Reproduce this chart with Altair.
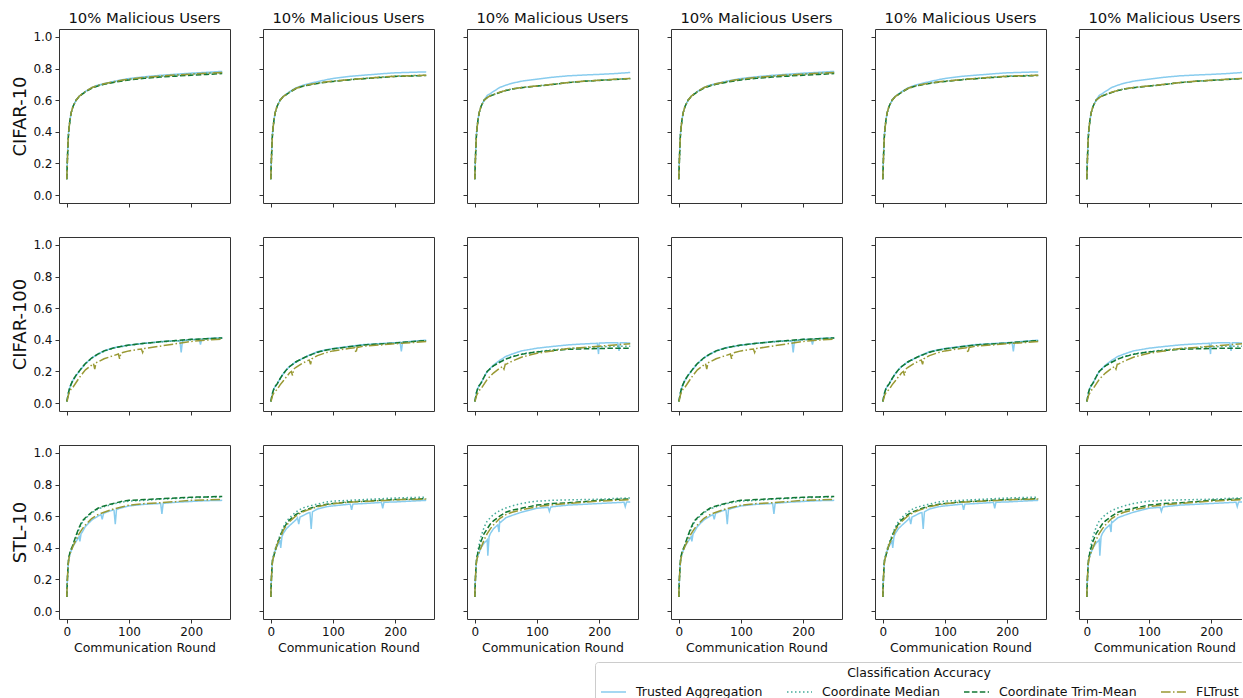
import altair as alt
import pandas as pd

# ---------------- data ----------------
ROUNDS = [0, 1, 2, 3, 5, 7, 10, 15, 20, 25, 30, 40, 50, 60, 75, 90, 100, 125, 150, 175, 200, 225, 250]
SERIES = ["Trusted Aggregation", "Coordinate Median", "Coordinate Trim-Mean", "FLTrust"]
COLORS = ["#88CCEE", "#44AA99", "#117733", "#999933"]
DASHES = [[1, 0], [1.5, 2.5], [5.5, 2.4], [9.6, 2.4, 1.5, 2.4]]
DATASETS = ["CIFAR-10", "CIFAR-100", "STL-10"]
COLUMN_TITLE = "10% Malicious Users"
COLUMN_SETTING = ["A", "B", "C", "A", "B", "C"]
Y_TICKS = [0.0, 0.2, 0.4, 0.6, 0.8, 1.0]
X_TICKS = [0, 100, 200]

# CIFAR-10
C10_A_TA = [.10, .22, .33, .40, .47, .52, .56, .60, .625, .64, .655, .68, .695, .705, .718, .73, .737, .748, .757, .764, .771, .776, .782]
C10_A_CM = [.10, .22, .33, .40, .47, .52, .56, .60, .625, .64, .655, .678, .692, .702, .715, .726, .732, .743, .752, .758, .765, .770, .775]
C10_A_TM = [.10, .22, .33, .40, .47, .52, .56, .60, .623, .638, .652, .675, .69, .70, .712, .722, .728, .738, .746, .752, .758, .763, .768]
C10_A_FL = [.10, .22, .33, .40, .47, .52, .56, .60, .625, .64, .655, .679, .694, .704, .716, .727, .733, .744, .752, .759, .765, .770, .775]

C10_B_TA = [.10, .22, .33, .40, .47, .52, .56, .60, .625, .638, .653, .677, .692, .703, .717, .73, .737, .75, .758, .766, .773, .776, .779]
C10_B_CM = [.10, .22, .33, .40, .47, .52, .56, .60, .623, .636, .65, .674, .688, .697, .708, .716, .72, .73, .738, .745, .752, .755, .758]
C10_B_TM = [.10, .22, .33, .40, .47, .52, .56, .60, .622, .635, .649, .672, .686, .695, .706, .714, .718, .728, .736, .743, .75, .753, .756]
C10_B_FL = [.10, .22, .33, .40, .47, .52, .56, .60, .623, .636, .65, .674, .688, .697, .708, .716, .72, .73, .737, .745, .752, .755, .758]

C10_C_TA = [.10, .22, .33, .40, .47, .52, .56, .60, .63, .642, .655, .68, .695, .707, .72, .728, .733, .745, .754, .759, .763, .768, .775]
C10_C_CM = [.10, .22, .33, .40, .47, .52, .56, .60, .617, .628, .635, .65, .662, .671, .68, .686, .69, .70, .712, .72, .726, .732, .737]
C10_C_TM = [.10, .22, .33, .40, .47, .52, .56, .60, .616, .627, .634, .649, .661, .67, .679, .685, .689, .699, .711, .719, .725, .731, .736]
C10_C_FL = [.10, .22, .33, .40, .47, .52, .56, .60, .617, .628, .635, .65, .662, .671, .68, .686, .69, .70, .712, .72, .726, .732, .737]

# CIFAR-100
C100_A_TA = [.01, .03, .05, .07, .10, .12, .145, .175, .20, .225, .25, .285, .31, .33, .35, .36, .367, .378, .388, .395, .403, .408, .414]
C100_A_CM = [.01, .03, .05, .07, .10, .12, .145, .175, .20, .225, .248, .283, .308, .327, .347, .358, .365, .377, .386, .393, .40, .406, .41]
C100_A_TM = [.01, .03, .05, .07, .10, .12, .145, .177, .202, .228, .25, .285, .31, .33, .348, .36, .367, .378, .388, .395, .403, .407, .412]
C100_A_FL = [.01, .02, .04, .055, .075, .09, .10, .13, .16, .185, .21, .24, .26, .28, .30, .32, .33, .345, .36, .375, .39, .398, .405]

C100_B_TA = [.01, .03, .05, .065, .09, .105, .12, .155, .185, .21, .23, .26, .28, .30, .325, .338, .345, .358, .37, .376, .382, .39, .398]
C100_B_CM = [.01, .03, .05, .065, .09, .105, .12, .155, .185, .21, .23, .258, .278, .297, .32, .335, .342, .355, .366, .373, .379, .387, .394]
C100_B_TM = [.01, .03, .05, .065, .09, .105, .12, .155, .185, .21, .23, .26, .28, .299, .322, .336, .343, .356, .368, .374, .38, .388, .396]
C100_B_FL = [.01, .02, .035, .05, .065, .075, .085, .115, .14, .165, .19, .225, .25, .27, .30, .32, .33, .345, .36, .367, .375, .382, .39]

C100_C_TA = [.01, .03, .05, .07, .095, .11, .126, .165, .20, .22, .24, .27, .295, .31, .33, .34, .347, .358, .368, .374, .379, .382, .38]
C100_C_CM = [.01, .03, .05, .07, .095, .11, .126, .165, .20, .218, .235, .26, .28, .295, .31, .32, .325, .337, .345, .35, .355, .36, .36]
C100_C_TM = [.01, .03, .05, .07, .095, .11, .126, .165, .20, .218, .235, .258, .278, .292, .308, .318, .323, .333, .34, .343, .345, .347, .347]
C100_C_FL = [.01, .02, .035, .05, .065, .08, .09, .12, .15, .17, .19, .22, .245, .265, .29, .305, .315, .33, .345, .352, .36, .368, .375]

# STL-10
S_A_TA = [.09, .20, .28, .32, .36, .38, .41, .44, .47, .50, .535, .575, .60, .62, .64, .655, .665, .675, .68, .688, .693, .698, .70]
S_A_CM = [.09, .20, .28, .33, .37, .39, .42, .47, .52, .56, .585, .62, .645, .66, .677, .69, .695, .70, .707, .712, .717, .72, .722]
S_A_TM = [.09, .20, .28, .33, .37, .39, .42, .48, .53, .57, .59, .625, .65, .665, .68, .695, .70, .705, .71, .715, .72, .722, .725]
S_A_FL = [.09, .20, .28, .32, .36, .38, .41, .45, .49, .52, .545, .585, .61, .625, .645, .66, .67, .68, .685, .692, .70, .703, .705]

S_B_TA = [.09, .20, .28, .32, .35, .38, .41, .44, .49, .52, .54, .575, .60, .62, .645, .66, .665, .675, .68, .686, .69, .695, .70]
S_B_CM = [.09, .20, .28, .33, .36, .39, .43, .48, .53, .565, .59, .625, .65, .662, .677, .69, .695, .70, .705, .71, .715, .718, .72]
S_B_TM = [.09, .20, .28, .33, .35, .38, .42, .47, .52, .55, .575, .61, .63, .645, .665, .675, .68, .69, .695, .70, .705, .708, .71]
S_B_FL = [.09, .20, .28, .32, .35, .38, .42, .46, .51, .54, .565, .60, .625, .64, .66, .672, .678, .688, .693, .698, .703, .706, .708]

S_C_TA = [.09, .20, .28, .32, .35, .37, .40, .43, .45, .49, .52, .565, .59, .605, .625, .64, .65, .66, .67, .675, .68, .685, .69]
S_C_CM = [.09, .20, .28, .33, .38, .42, .47, .53, .57, .59, .61, .635, .652, .665, .68, .69, .695, .70, .703, .705, .707, .712, .715]
S_C_TM = [.09, .20, .28, .33, .37, .40, .44, .49, .52, .55, .57, .60, .625, .638, .65, .662, .67, .68, .685, .692, .70, .705, .71]
S_C_FL = [.09, .20, .28, .32, .35, .37, .40, .45, .49, .52, .545, .585, .61, .625, .64, .652, .66, .672, .68, .688, .695, .70, .705]

# isolated dips visible in the reference: (round, accuracy)
C100_A_TA_DIPS = [(182, .39), (184, .32), (186, .392), (213, .402), (215, .37), (217, .404)]
C100_A_FL_DIPS = [(43, .25), (45, .215), (47, .255), (83, .31), (85, .28), (87, .315), (120, .342), (122, .32), (124, .344)]
C100_B_TA_DIPS = [(208, .384), (210, .327), (212, .385)]
C100_B_FL_DIPS = [(33, .20), (35, .175), (37, .215), (62, .272), (64, .245), (66, .28), (135, .35), (137, .318), (139, .352)]
C100_C_TA_DIPS = [(197, .378), (199, .31), (201, .38), (230, .382), (232, .33), (234, .382)]
C100_C_FL_DIPS = [(45, .232), (47, .215), (49, .245)]
S_A_TA_DIPS = [(19, .465), (21, .44), (23, .49), (55, .61), (57, .58), (59, .615), (76, .637), (78, .55), (80, .643), (151, .68), (153, .615), (155, .681)]
S_B_TA_DIPS = [(14, .435), (16, .40), (18, .47), (43, .59), (45, .55), (47, .595), (63, .622), (65, .52), (67, .627), (128, .675), (130, .64), (132, .676), (178, .687), (180, .65), (182, .688)]
S_C_TA_DIPS = [(19, .445), (21, .35), (23, .47), (37, .545), (39, .50), (41, .56), (118, .656), (120, .63), (122, .657), (240, .688), (242, .66), (244, .689)]

CURVES = {
    ("CIFAR-10", "A"): [C10_A_TA, C10_A_CM, C10_A_TM, C10_A_FL],
    ("CIFAR-10", "B"): [C10_B_TA, C10_B_CM, C10_B_TM, C10_B_FL],
    ("CIFAR-10", "C"): [C10_C_TA, C10_C_CM, C10_C_TM, C10_C_FL],
    ("CIFAR-100", "A"): [C100_A_TA, C100_A_CM, C100_A_TM, C100_A_FL],
    ("CIFAR-100", "B"): [C100_B_TA, C100_B_CM, C100_B_TM, C100_B_FL],
    ("CIFAR-100", "C"): [C100_C_TA, C100_C_CM, C100_C_TM, C100_C_FL],
    ("STL-10", "A"): [S_A_TA, S_A_CM, S_A_TM, S_A_FL],
    ("STL-10", "B"): [S_B_TA, S_B_CM, S_B_TM, S_B_FL],
    ("STL-10", "C"): [S_C_TA, S_C_CM, S_C_TM, S_C_FL],
}
DIPS = {
    ("CIFAR-100", "A", "Trusted Aggregation"): C100_A_TA_DIPS,
    ("CIFAR-100", "A", "FLTrust"): C100_A_FL_DIPS,
    ("CIFAR-100", "B", "Trusted Aggregation"): C100_B_TA_DIPS,
    ("CIFAR-100", "B", "FLTrust"): C100_B_FL_DIPS,
    ("CIFAR-100", "C", "Trusted Aggregation"): C100_C_TA_DIPS,
    ("CIFAR-100", "C", "FLTrust"): C100_C_FL_DIPS,
    ("STL-10", "A", "Trusted Aggregation"): S_A_TA_DIPS,
    ("STL-10", "B", "Trusted Aggregation"): S_B_TA_DIPS,
    ("STL-10", "C", "Trusted Aggregation"): S_C_TA_DIPS,
}

# ---------------- chart ----------------
FONT = "DejaVu Sans"
PANEL_W, PANEL_H = 171, 174


def panel_frame(ds, setting):
    recs = []
    for s, vals in zip(SERIES, CURVES[(ds, setting)]):
        pts = sorted(list(zip(ROUNDS, vals)) + DIPS.get((ds, setting, s), []))
        for r, v in pts:
            recs.append({"round": r, "acc": v, "series": s})
    return pd.DataFrame(recs)


legend = alt.Legend(
    title="Classification Accuracy", orient="none", legendX=536, legendY=633,
    direction="horizontal", columns=4, symbolType="stroke", symbolSize=625,
    symbolStrokeWidth=1.5, titleAnchor="middle", titleFontSize=12.5,
    titleFontWeight="normal", titleFont=FONT, titleColor="#111",
    labelFont=FONT, labelFontSize=12.5, labelColor="#111", labelOffset=9,
    columnPadding=21, padding=5, strokeColor="#cccccc", cornerRadius=3,
    fillColor="white", titlePadding=-1, labelLimit=300,
)

panels = []
for ri, ds in enumerate(DATASETS):
    for ci, setting in enumerate(COLUMN_SETTING):
        first_col = ci == 0
        last_row = ri == len(DATASETS) - 1
        if first_col:
            yaxis = alt.Axis(values=Y_TICKS, format=".1f", title=ds, titleFontSize=18,
                             titleFontWeight="normal", titlePadding=3, titleColor="#111",
                             grid=False, domain=False, labelFontSize=12, labelFont=FONT,
                             labelColor="#111", titleFont=FONT)
        else:
            yaxis = alt.Axis(values=Y_TICKS, labels=False, title=None, grid=False, domain=False)
        if last_row:
            xaxis = alt.Axis(values=X_TICKS, format="d", title="Communication Round",
                             titleFontSize=12.5, titleFontWeight="normal", titlePadding=4,
                             titleColor="#111", grid=False, domain=False, labelFontSize=12,
                             labelFont=FONT, labelColor="#111", titleFont=FONT)
        else:
            xaxis = alt.Axis(values=X_TICKS, labels=False, title=None, grid=False, domain=False)
        ch = alt.Chart(panel_frame(ds, setting)).mark_line(strokeWidth=1.5, clip=True).encode(
            x=alt.X("round:Q", scale=alt.Scale(domain=[-12.5, 262.5], nice=False, zero=False), axis=xaxis),
            y=alt.Y("acc:Q", scale=alt.Scale(domain=[-0.05, 1.05], nice=False, zero=False), axis=yaxis),
            color=alt.Color("series:N", scale=alt.Scale(domain=SERIES, range=COLORS), legend=legend),
            strokeDash=alt.StrokeDash("series:N", scale=alt.Scale(domain=SERIES, range=DASHES), legend=legend),
        ).properties(width=PANEL_W, height=PANEL_H)
        if ri == 0:
            ch = ch.properties(title=alt.TitleParams(COLUMN_TITLE, fontSize=14.8, fontWeight="normal",
                                                     font=FONT, color="#111", offset=3, anchor="middle"))
        panels.append(ch)

chart = alt.concat(*panels, columns=6, spacing={"row": 34, "column": 33}, bounds="flush").properties(
    padding={"left": 11, "top": 10, "right": -9, "bottom": -7}, background="white"
).configure_view(stroke="#333333", strokeWidth=1).configure_axis(
    domain=False, grid=False, tickColor="#333333", tickSize=4, tickWidth=1,
    labelFont=FONT, labelFontSize=12, labelColor="#111", labelPadding=3, titleFont=FONT,
)

chart.save("out.html", embed_options={"renderer": "svg", "actions": False})
